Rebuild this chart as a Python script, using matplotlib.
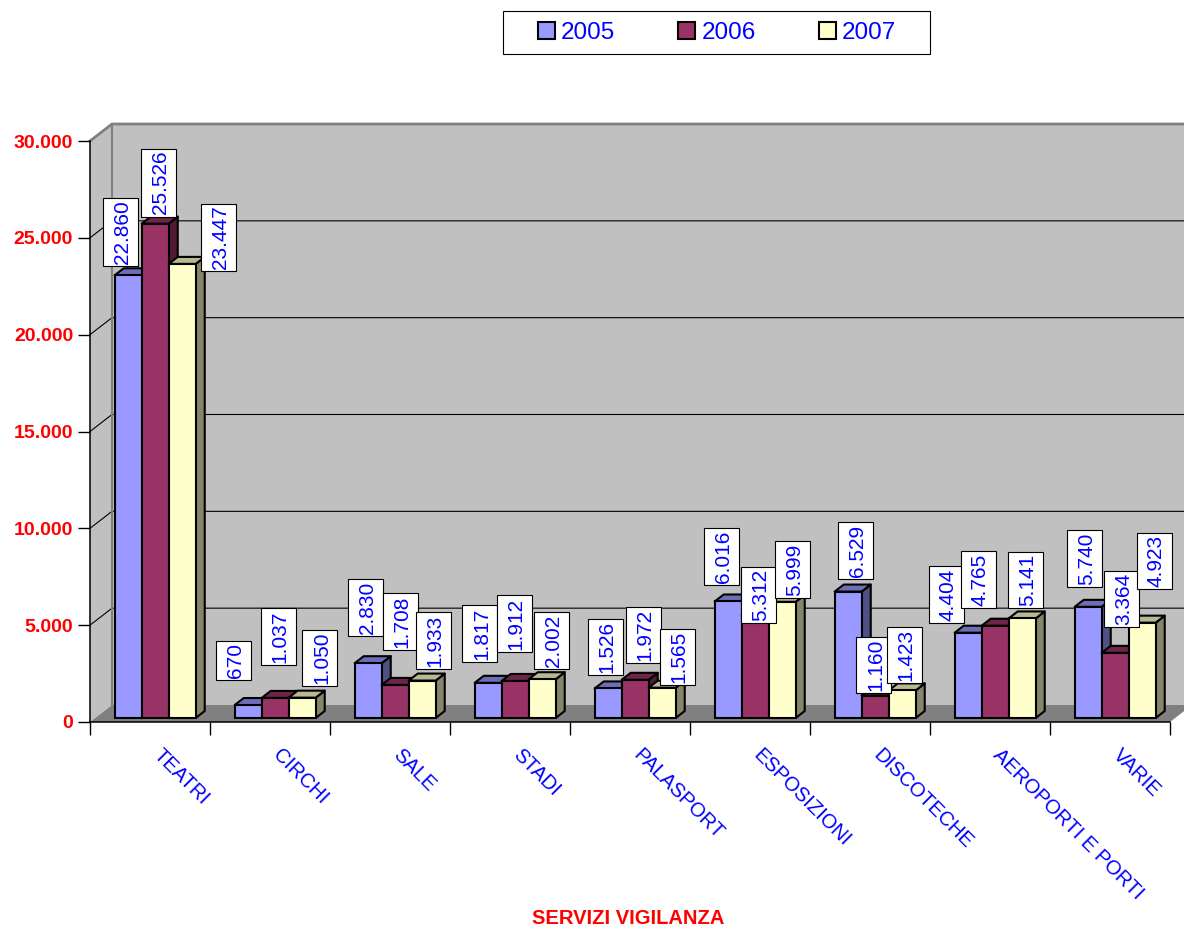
import matplotlib
matplotlib.use('Agg')
import matplotlib.pyplot as plt
from matplotlib.patches import Polygon, Rectangle, Patch
from matplotlib.path import Path
from matplotlib.transforms import ScaledTranslation, IdentityTransform
from matplotlib.colors import to_rgb

plt.rcParams['font.family'] = ['Liberation Sans', 'DejaVu Sans']

categories = ['TEATRI', 'CIRCHI', 'SALE', 'STADI', 'PALASPORT',
              'ESPOSIZIONI', 'DISCOTECHE', 'AEROPORTI E PORTI', 'VARIE']
years = ['2005', '2006', '2007']
v2005 = [22860, 670, 2830, 1817, 1526, 6016, 6529, 4404, 5740]
v2006 = [25526, 1037, 1708, 1912, 1972, 5312, 1160, 4765, 3364]
v2007 = [23447, 1050, 1933, 2002, 1565, 5999, 1423, 5141, 4923]
yticks = [0, 5000, 10000, 15000, 20000, 25000, 30000]
ytick_labels = ['0', '5.000', '10.000', '15.000', '20.000', '25.000', '30.000']
xlabel = 'SERVIZI VIGILANZA'

series = [v2005, v2006, v2007]
colors = ['#9999FF', '#993366', '#FFFFCC']

# value boxes sit where they were dragged to: offset from bar top, pixels (right, up)
box_dx = [[-7.5, -14.5, -2.5, -8.5, -3, -7, 7, -22, -4],
          [3.5, 3, 5, -1, 8, 3.5, -1.5, -17, 6],
          [36, 17.5, 11, 9, 15, 10, 2, 3, 12]]
box_up = [[43, 44.5, 55.7, 49.3, 41.4, 45, 41.1, 38.2, 48.3],
          [41, 61.4, 63.4, 57.5, 44.8, 20.1, 30.5, 46.2, 53.8],
          [26.4, 39.7, 40.1, 38.7, 30.7, 32.3, 35.4, 38.4, 61.7]]

W, H, DPI = 1184, 932, 100
fig = plt.figure(figsize=(W / DPI, H / DPI), dpi=DPI)
# front plane of the 3d box
ax = fig.add_axes([90 / W, (H - 722) / H, 1080 / W, 581 / H])
ax.set_xlim(0, len(categories))
ax.set_ylim(0, 30000)
ax.set_facecolor('none')

DEPTH = (22, 17)           # wall depth in pixels (right, up)
Z_FRONT, Z_BACK = 0.235, 0.647
BAR_W = 0.225
GLYPH_SHIFT = 0.1          # digits sit above the middle of the text box (font units)
LABEL_FS = 15


def pt(x, v, z):
    px, py = ax.transData.transform((x, v))
    return (px + z * DEPTH[0], py + z * DEPTH[1])


def shifted(z):
    return ax.transData + ScaledTranslation(z * DEPTH[0] / DPI, z * DEPTH[1] / DPI,
                                            fig.dpi_scale_trans)


def poly(points, **kw):
    p = Polygon(points, closed=True, transform=IdentityTransform(), clip_on=False, **kw)
    ax.add_patch(p)
    return p


def value_box(x0, y0, width, height, mutation_size):
    # tight along the text, wide across it, centred on the digits
    px = 0.1 * mutation_size
    across = 1.68 * mutation_size
    py = (across - height) / 2
    up = GLYPH_SHIFT * mutation_size
    x0, x1 = x0 - px, x0 + width + px
    y0, y1 = y0 - py + up, y0 + height + py + up
    return Path([(x0, y0), (x1, y0), (x1, y1), (x0, y1), (x0, y0)], closed=True)


n = len(categories)
top = yticks[-1]
# walls and floor
poly([pt(0, 0, 1), pt(n, 0, 1), pt(n, top, 1), pt(0, top, 1)], fc='#C0C0C0', ec='none', zorder=0)
poly([pt(0, 0, 0), pt(0, top, 0), pt(0, top, 1), pt(0, 0, 1)], fc='#C0C0C0', ec='none', zorder=0)
poly([pt(0, 0, 0), pt(n, 0, 0), pt(n, 0, 1), pt(0, 0, 1)], fc='#808080', ec='none', zorder=0.1)
for v in yticks[1:-1]:
    a, b, c = pt(0, v, 0), pt(0, v, 1), pt(n, v, 1)
    ax.plot([a[0], b[0], c[0]], [a[1], b[1], c[1]], color='black', lw=0.8,
            transform=IdentityTransform(), clip_on=False, zorder=0.2)
a, b, c = pt(0, top, 0), pt(0, top, 1), pt(n, top, 1)
ax.plot([a[0], b[0], c[0]], [a[1], b[1], c[1]], color='#808080', lw=2,
        transform=IdentityTransform(), clip_on=False, zorder=0.3)
a, b = pt(0, 0, 1), pt(0, top, 1)
ax.plot([a[0], b[0]], [a[1], b[1]], color='#808080', lw=1.5,
        transform=IdentityTransform(), clip_on=False, zorder=0.3)


def shade(c, f):
    r, g, b = to_rgb(c)
    return (r * f, g * f, b * f)


label_px = LABEL_FS * DPI / 72
front_tr = shifted(Z_FRONT)
for j, (vals, col) in enumerate(zip(series, colors)):
    xs = [i + 0.5 + (j - 1) * BAR_W for i in range(n)]
    bars = ax.bar(xs, vals, BAR_W, color=col, edgecolor='black', linewidth=1.5,
                  transform=front_tr, clip_on=False)
    for i, (rect, v) in enumerate(zip(bars, vals)):
        z0 = 2 + (i * 3 + j) * 0.01
        x0, x1 = xs[i] - BAR_W / 2, xs[i] + BAR_W / 2
        poly([pt(x1, 0, Z_FRONT), pt(x1, v, Z_FRONT), pt(x1, v, Z_BACK), pt(x1, 0, Z_BACK)],
             fc=shade(col, 0.52), ec='black', lw=1.5, joinstyle='round', zorder=z0)
        poly([pt(x0, v, Z_FRONT), pt(x1, v, Z_FRONT), pt(x1, v, Z_BACK), pt(x0, v, Z_BACK)],
             fc=shade(col, 0.72), ec='black', lw=1.5, joinstyle='round', zorder=z0 + 0.001)
        rect.set_zorder(z0 + 0.002)
        txt = f'{v:,}'.replace(',', '.')
        ax.annotate(txt, xy=(xs[i], v), xycoords=front_tr,
                    xytext=(box_dx[j][i] + GLYPH_SHIFT * label_px, box_up[j][i]),
                    textcoords='offset pixels',
                    rotation=90, ha='center', va='center', fontsize=LABEL_FS, color='#0000FF',
                    bbox=dict(boxstyle=value_box, fc='white', ec='black', lw=0.8),
                    zorder=10, annotation_clip=False)

# axes
for s in ['top', 'right']:
    ax.spines[s].set_visible(False)
for s in ['left', 'bottom']:
    ax.spines[s].set_color('black')
    ax.spines[s].set_linewidth(1.1)
    ax.spines[s].set_zorder(1)
ax.set_yticks(yticks)
ax.set_yticklabels(ytick_labels, color='#FF0000', fontweight='bold', fontsize=14)
ax.tick_params(axis='y', length=8.6, width=1, pad=3.5)
ax.set_xticks(range(n + 1))
ax.set_xticklabels([])
ax.tick_params(axis='x', length=9.4, width=1)

cat_tr = ax.transData + ScaledTranslation(13 / DPI, -23 / DPI, fig.dpi_scale_trans)
for i, name in enumerate(categories):
    ax.text(i + 0.5, 0, name, transform=cat_tr, rotation=-45, rotation_mode='anchor',
            ha='left', va='top', fontsize=14.5, color='#0000FF', clip_on=False)

fig.text(628 / W, 1 - 919 / H, xlabel, ha='center', va='center',
         color='#FF0000', fontweight='bold', fontsize=14.5)

# legend with its own box
fig.add_artist(Rectangle((503 / W, 1 - 54 / H), 427 / W, 43 / H, transform=fig.transFigure,
                         fc='white', ec='black', lw=0.8))
handles = [Patch(facecolor=c, edgecolor='black', linewidth=1.5) for c in colors]
fig.legend(handles, years, loc='center', bbox_to_anchor=(717 / W, 1 - 33 / H), ncol=3,
           frameon=False, fontsize=17.5, labelcolor='#0000FF', handlelength=0.7,
           handleheight=0.7, handletextpad=0.25, columnspacing=2.6,
           borderpad=0, borderaxespad=0)

fig.savefig('out.png', dpi=DPI)
